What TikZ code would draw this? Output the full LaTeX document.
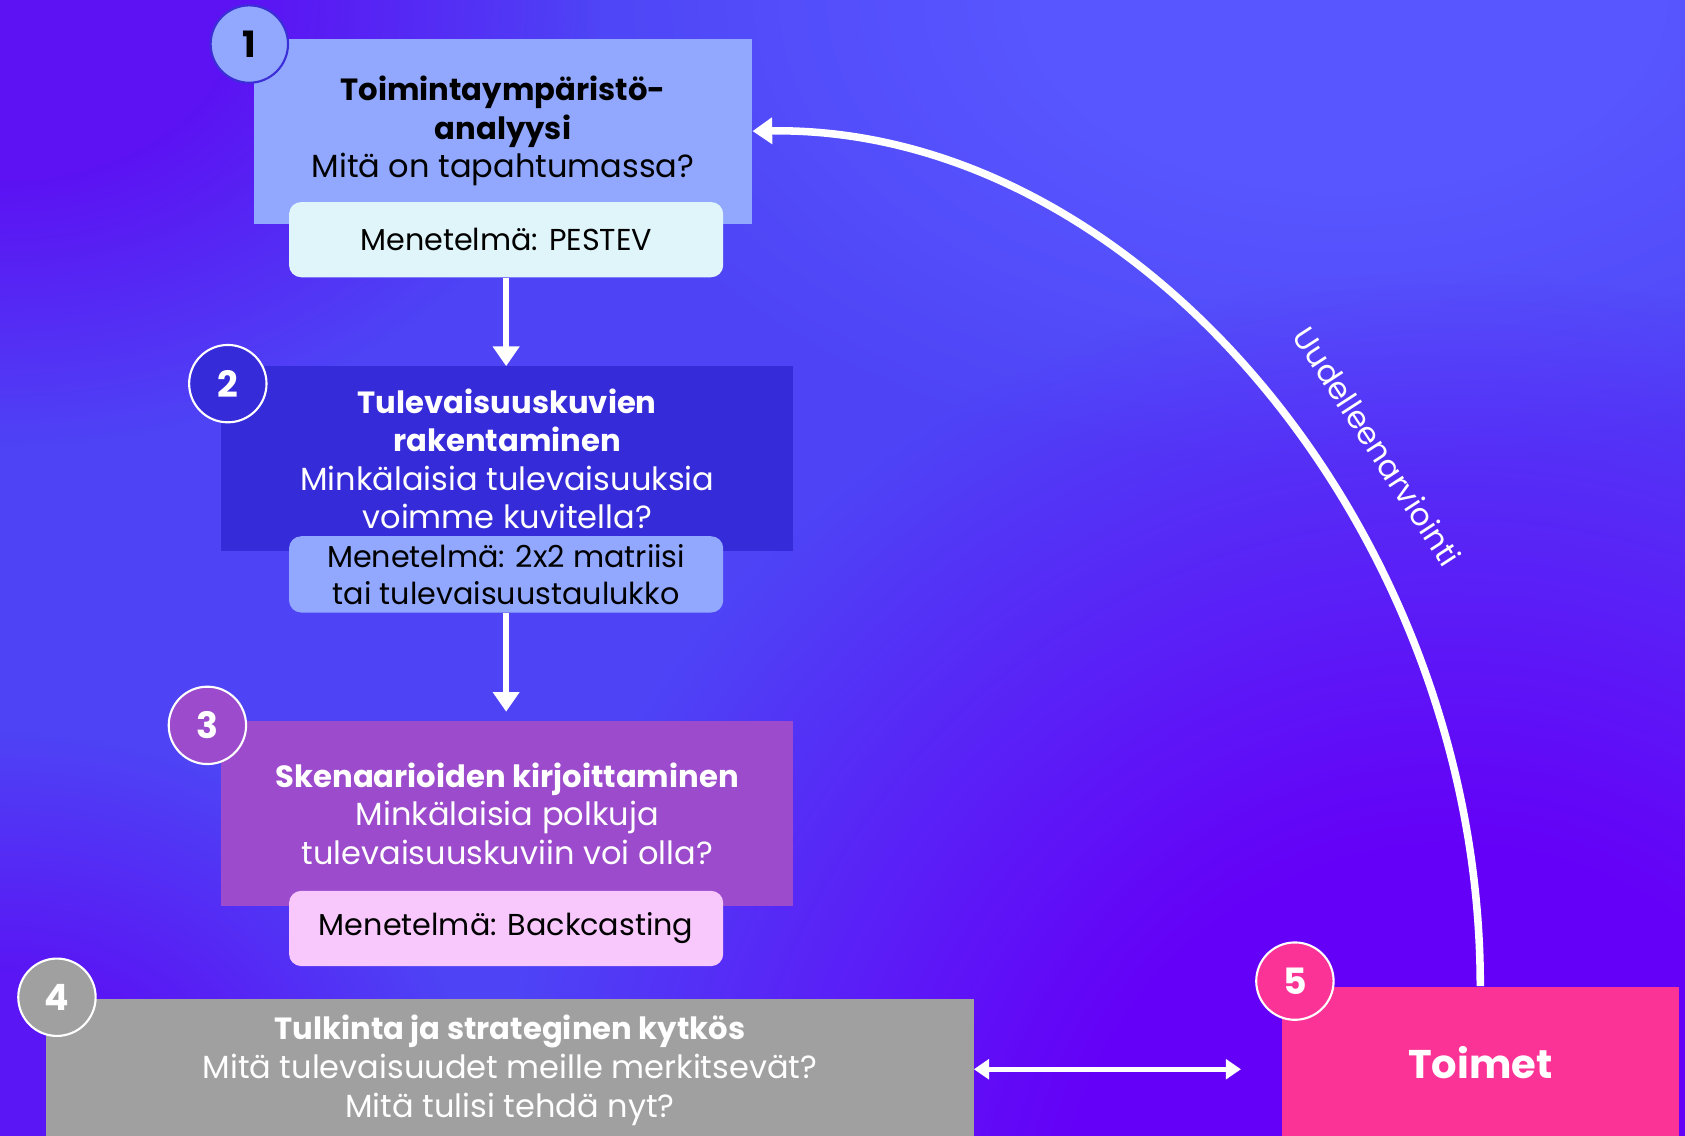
\documentclass[tikz,border=0pt]{standalone}
\usepackage{fontspec}
\setmainfont{Poppins}
\usetikzlibrary{arrows.meta}
\usetikzlibrary{positioning}
\usetikzlibrary{fadings}

\definecolor{bg-base}{HTML}{4E44F6}
\definecolor{bg-top}{HTML}{5C12F3}
\definecolor{bg-low}{HTML}{5A16F4}
\definecolor{bg-violet}{HTML}{6500F8}
\definecolor{bg-light}{HTML}{5856FF}
\definecolor{env-col}{HTML}{91A8FE}
\definecolor{env-line}{HTML}{3B2ED6}
\definecolor{pestev-col}{HTML}{E0F5FA}
\definecolor{vision-col}{HTML}{362BD8}
\definecolor{scen-col}{HTML}{9B4BCB}
\definecolor{back-col}{HTML}{F8C8FC}
\definecolor{interp-col}{HTML}{A0A0A0}
\definecolor{act-col}{HTML}{FC3396}

\pgfdeclareradialshading{soft-disc}{\pgfpointorigin}{color(0pt)=(pgftransparent!0); color(10pt)=(pgftransparent!0); color(25pt)=(pgftransparent!100); color(50pt)=(pgftransparent!100)}
\pgfdeclarefading{soft disc}{\pgfuseshading{soft-disc}}

\newlength\px
\setlength\px{0.025cm}
\newcommand\steptitle[1]{{\fontsize{20.3}{25.5}\selectfont\bfseries #1}}

\begin{document}
\begin{tikzpicture}[x=0.025cm, y=-0.025cm,
            step-node/.style={rectangle,inner sep=0pt,align=center,
                minimum height={172*\px},font=\fontsize{21.2}{25.5}\selectfont},
            method-node/.style={rectangle,rounded corners=8pt,inner sep=0pt,align=center,
                minimum width={404*\px},minimum height={70*\px},
                font=\fontsize{20}{24.8}\selectfont},
            num-node/.style={circle,draw=white,line width=1.4pt,inner sep=0pt,
                minimum size={72*\px},font=\fontsize{24}{24}\selectfont\bfseries},
            flow/.style={white,line width=4.3pt,-{Triangle[width=17pt,length=13pt]}},
        ]
            \useasboundingbox (0,0) rectangle (1568,1057);
            \clip (0,0) rectangle (1568,1057);

            % background
            \fill[bg-base] (0,0) rectangle (1568,1057);
            \fill[bg-light,path fading=soft disc] (1250,0) ellipse [x radius=750, y radius=450];
            \fill[bg-violet,path fading=soft disc] (1350,1150) ellipse [x radius=900, y radius=900];
            \fill[bg-low,path fading=soft disc] (0,1057) ellipse [x radius=450, y radius=380];
            \fill[bg-top,path fading=soft disc] (0,0) ellipse [x radius=560, y radius=420];

            % steps
            \node[step-node,fill=env-col,minimum width={464*\px}] (env) at (468, 122)
                {\steptitle{Toimintaympäristö-}\\\steptitle{analyysi}\\Mitä on tapahtumassa?};
            \node[method-node,fill=pestev-col] (pestev) at (471, 223) {Menetelmä: PESTEV};

            \node[step-node,fill=vision-col,text=white,minimum width={532*\px}] (vision) at (472, 427)
                {\steptitle{Tulevaisuuskuvien}\\\steptitle{rakentaminen}\\Minkälaisia tulevaisuuksia\\voimme kuvitella?};
            \node[method-node,fill=env-col,minimum height={71*\px}] (matrix) at (471, 534.5)
                {Menetelmä: 2x2 matriisi\\tai tulevaisuustaulukko};

            \node[step-node,fill=scen-col,text=white,minimum width={532*\px}] (scen) at (472, 757)
                {\steptitle{Skenaarioiden kirjoittaminen}\\Minkälaisia polkuja\\tulevaisuuskuviin voi olla?};
            \node[method-node,fill=back-col] (back) at (471, 864) {Menetelmä: Backcasting};

            \fill[interp-col] (43,990) rectangle (906,1057);
            \node[step-node,fill=interp-col,text=white,minimum width={863*\px},minimum height={132*\px}] (interp) at (474.5, 996)
                {\steptitle{Tulkinta ja strateginen kytkös}\\Mitä tulevaisuudet meille merkitsevät?\\Mitä tulisi tehdä nyt?};

            \fill[act-col] (1193,980) rectangle (1562,1057);
            \node[step-node,fill=act-col,text=white,minimum width={369*\px},minimum height={142*\px},
                font=\fontsize{26.5}{30}\selectfont\bfseries] (act) at (1377.5, 989) {Toimet};

            % numbers
            \node[num-node,fill=env-col,draw=env-line] (n1) at (232, 41) {1};
            \node[num-node,fill=vision-col,text=white] (n2) at (212, 357) {2};
            \node[num-node,fill=scen-col,text=white] (n3) at (193, 675) {3};
            \node[num-node,fill=interp-col,text=white] (n4) at (53, 928) {4};
            \node[num-node,fill=act-col,text=white] (n5) at (1205, 913) {5};

            % arrows
            \draw[flow] (pestev) -- (pestev |- vision.north);
            \draw[flow,shorten >=6pt] (matrix) -- (matrix |- scen.north);
            \draw[white,line width=3.6pt,{Triangle[width=13pt,length=10pt]}-{Triangle[width=13pt,length=10pt]},shorten >=27pt]
                (interp.east |- 0,995) -- (act.west |- 0,995);
            \draw[flow,line width=5pt] (act.north) .. controls +(0,-420) and +(360,-5) .. (env.east)
                node[pos=0.41,sloped,above=28pt,inner sep=0pt,text=white,font=\fontsize{20.5}{20.5}\selectfont] {Uudelleenarviointi};
        \end{tikzpicture}
\end{document}
